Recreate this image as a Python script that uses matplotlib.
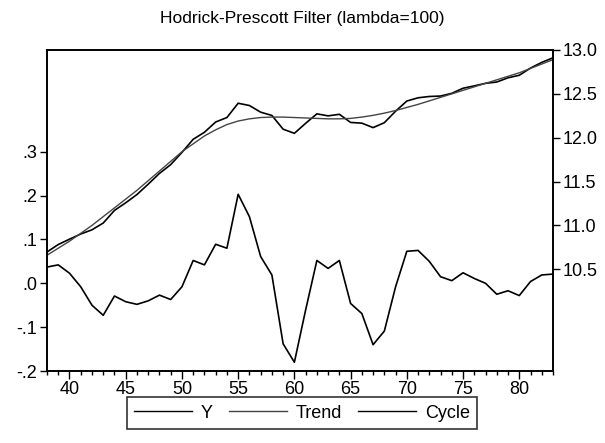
import matplotlib
matplotlib.use("Agg")
import matplotlib.pyplot as plt
from matplotlib.ticker import MultipleLocator

plt.rcParams['font.family'] = ['Liberation Sans', 'DejaVu Sans']

years = list(range(38, 84))

trend = [10.66, 10.74, 10.82, 10.91, 11.00, 11.10, 11.20, 11.30, 11.40, 11.51,
         11.62, 11.73, 11.84, 11.93, 12.02, 12.09, 12.15, 12.19, 12.215, 12.23,
         12.235, 12.235, 12.23, 12.225, 12.22, 12.215, 12.215, 12.22, 12.235, 12.255,
         12.28, 12.31, 12.345, 12.38, 12.42, 12.46, 12.50, 12.54, 12.58, 12.62,
         12.66, 12.70, 12.74, 12.79, 12.84, 12.89]

cycle = [0.037, 0.042, 0.023, -0.008, -0.050, -0.073, -0.029, -0.042, -0.048, -0.040,
         -0.027, -0.037, -0.008, 0.052, 0.042, 0.089, 0.080, 0.203, 0.152, 0.061,
         0.019, -0.138, -0.180, -0.061, 0.052, 0.034, 0.052, -0.046, -0.069, -0.140,
         -0.109, -0.008, 0.073, 0.075, 0.050, 0.015, 0.006, 0.024, 0.011, 0.000,
         -0.025, -0.017, -0.028, 0.004, 0.019, 0.021]

y = [10.697, 10.782, 10.843, 10.902, 10.950, 11.027, 11.171, 11.258, 11.352, 11.470,
     11.593, 11.693, 11.832, 11.982, 12.062, 12.179, 12.230, 12.393, 12.367, 12.291,
     12.254, 12.097, 12.050, 12.164, 12.272, 12.249, 12.267, 12.174, 12.166, 12.115,
     12.171, 12.302, 12.418, 12.455, 12.470, 12.475, 12.506, 12.564, 12.591, 12.620,
     12.635, 12.683, 12.712, 12.794, 12.859, 12.911]

left_ticks = [-0.2, -0.1, 0.0, 0.1, 0.2, 0.3]
left_labels = ['-.2', '-.1', '.0', '.1', '.2', '.3']
right_ticks = [10.5, 11.0, 11.5, 12.0, 12.5, 13.0]
x_ticks = [40, 45, 50, 55, 60, 65, 70, 75, 80]

fig = plt.figure(figsize=(6.05, 4.43), dpi=100)
ax = fig.add_axes([47 / 605, 1 - 371 / 443, (553 - 47) / 605, (371 - 50) / 443])
ax2 = ax.twinx()

l3, = ax.plot(years, cycle, color='black', lw=1.2)
l1, = ax2.plot(years, y, color='black', lw=1.2)
l2, = ax2.plot(years, trend, color='#444444', lw=1.0)

ax.set_xlim(38, 83)
ax.set_ylim(-0.2, 0.532)
ax2.set_ylim(9.34, 13.0)

ax.set_xticks(x_ticks)
ax.set_xticklabels([str(t) for t in x_ticks])
ax.xaxis.set_minor_locator(MultipleLocator(1))
ax.set_yticks(left_ticks)
ax.set_yticklabels(left_labels)
ax2.set_yticks(right_ticks)
ax2.set_yticklabels(['%.1f' % t for t in right_ticks])

ax.tick_params(axis='x', which='major', direction='out', length=6, width=1, labelsize=13, pad=1)
ax.tick_params(axis='x', which='minor', direction='out', length=3, width=1)
ax.tick_params(axis='y', direction='out', length=5, width=1, labelsize=13, pad=2)
ax2.tick_params(axis='y', direction='out', length=5, width=1, labelsize=13, pad=2)

for a in (ax, ax2):
    for s in a.spines.values():
        s.set_linewidth(1.2)
        s.set_color('black')

fig.text(0.5, 1 - 18 / 443, 'Hodrick-Prescott Filter (lambda=100)', ha='center', va='center', fontsize=12.5)

leg = fig.legend([l1, l2, l3], ['Y', 'Trend', 'Cycle'], loc='center',
                 bbox_to_anchor=(302 / 605, 1 - 413 / 443), ncol=3, fontsize=13,
                 frameon=True, fancybox=False, edgecolor='black', handlelength=3.2,
                 handletextpad=0.5, columnspacing=0.9, borderpad=0.4)
leg.get_frame().set_linewidth(1.2)
for h in leg.get_lines():
    h.set_linewidth(1.0)

fig.savefig('out.png', dpi=100)
